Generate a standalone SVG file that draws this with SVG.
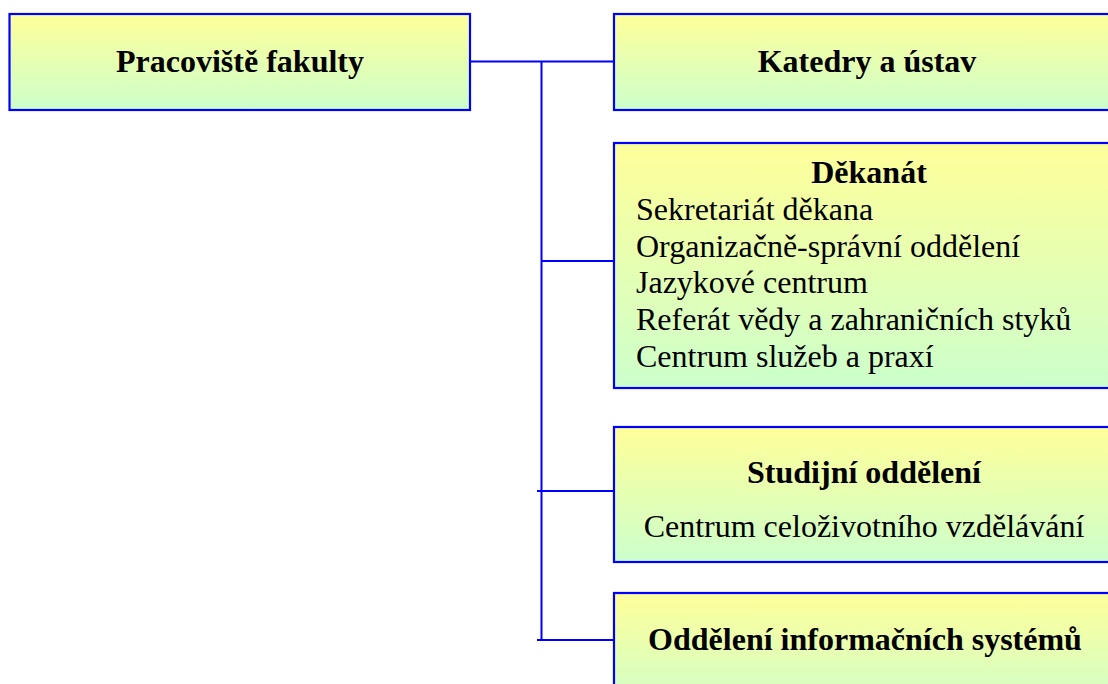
<svg xmlns="http://www.w3.org/2000/svg" width="1108" height="684" viewBox="0 0 1108 684">
<style>
.box{stroke:#0000FF;stroke-width:2.2;}
.conn{stroke:#0000FF;stroke-width:2;fill:none;}
.t{font-family:"Liberation Serif","Times New Roman",serif;font-size:32px;fill:#000;}
.b{font-weight:bold;}
.c{text-anchor:middle;}
</style>
<defs>
<linearGradient id="g" x1="0" y1="0" x2="0" y2="1">
<stop offset="0" stop-color="#FFFF99"/>
<stop offset="1" stop-color="#CCFFCC"/>
</linearGradient>
</defs>
<rect width="1108" height="684" fill="#FFFFFF"/>
<g id="connectors">
<polyline class="conn" points="470,61.5 614,61.5"/>
<polyline class="conn" points="541.5,61.5 541.5,640"/>
<polyline class="conn" points="541.5,261 614,261"/>
<polyline class="conn" points="537,491 614,491"/>
<polyline class="conn" points="537,640 614,640"/>
</g>
<g id="pracoviste">
<rect class="box" x="9.5" y="14" width="460.5" height="96" fill="url(#g)"/>
<text class="t b c" x="240" y="72">Pracoviště fakulty</text>
</g>
<g id="katedry">
<rect class="box" x="614" y="14" width="510" height="96" fill="url(#g)"/>
<text class="t b c" x="867" y="72">Katedry a ústav</text>
</g>
<g id="dekanat">
<rect class="box" x="614" y="143" width="510" height="245" fill="url(#g)"/>
<text class="t b c" x="869" y="183">Děkanát</text>
<text class="t" x="636" y="220">Sekretariát děkana</text>
<text class="t" x="636" y="257">Organizačně-správní oddělení</text>
<text class="t" x="636" y="293">Jazykové centrum</text>
<text class="t" x="636" y="330">Referát vědy a zahraničních styků</text>
<text class="t" x="636" y="367">Centrum služeb a praxí</text>
</g>
<g id="studijni">
<rect class="box" x="614" y="427" width="510" height="135" fill="url(#g)"/>
<text class="t b c" x="864" y="483">Studijní oddělení</text>
<text class="t c" x="864" y="537">Centrum celoživotního vzdělávání</text>
</g>
<g id="ois">
<rect class="box" x="614" y="593" width="510" height="120" fill="url(#g)"/>
<text class="t b c" x="865" y="650">Oddělení informačních systémů</text>
</g>
</svg>
